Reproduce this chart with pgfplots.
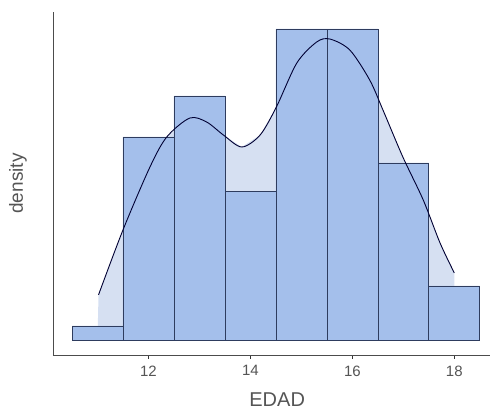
\documentclass[border=0pt]{standalone}
\usepackage{pgfplots}
\pgfplotsset{compat=1.18}
\usepackage{fontspec}
\setmainfont{Liberation Sans}
\definecolor{barfill}{HTML}{A4BFEB}
\definecolor{baredge}{HTML}{2E3C5E}
\definecolor{densfill}{HTML}{D6E0F2}
\definecolor{txt}{HTML}{555555}
\begin{document}
\begin{tikzpicture}
\useasboundingbox (0,0) rectangle (493pt,411pt);
\begin{axis}[
  at={(53pt,56pt)}, anchor=south west,
  scale only axis, width=437pt, height=343pt,
  xmin=10.127, xmax=18.70, ymin=-0.0103, ymax=0.2242,
  axis x line*=bottom, axis y line*=left,
  axis line style={color=black!70, line width=0.6pt},
  xtick={12,14,16,18}, ytick=\empty,
  tick align=outside, major tick length=4pt,
  x tick style={color=black!80, line width=0.8pt},
  xticklabel style={font=\fontsize{15}{15}\selectfont, text=txt, yshift=-3pt},
  /pgf/number format/assume math mode=true,
  xlabel={EDAD}, ylabel={density},
  xlabel style={at={(axis description cs:0.513,0)}, anchor=center, yshift=-45pt, font=\fontsize{20}{20}\selectfont, text=txt},
  ylabel style={at={(axis description cs:-0.08,0.5)}, anchor=center, font=\fontsize{19}{19}\selectfont, text=txt},
  clip=false,
]
\addplot[fill=densfill, draw=none] coordinates {
(11.0,0) (11.02,0.0308) (11.5,0.0752) (12.03,0.1183) (12.36,0.1388) (12.81,0.1517)
(13.14,0.1490) (13.47,0.1401) (13.83,0.1319) (14.19,0.1401) (14.51,0.1593)
(14.91,0.1893) (15.30,0.2037) (15.56,0.2057) (15.95,0.1982) (16.34,0.1777)
(16.60,0.1572) (16.99,0.1251) (17.39,0.0957) (17.72,0.0663) (18.0,0.0458) (18.0,0)
} -- cycle;
\addplot[ybar interval, fill=barfill, draw=baredge, line width=0.7pt] coordinates {
(10.5,0.0096) (11.5,0.1388) (12.5,0.1668) (13.5,0.1018) (14.5,0.2126)
(15.5,0.2126) (16.5,0.1210) (17.5,0.0369) (18.5,0.0369)
};
\addplot[smooth, tension=0.5, draw=black!80!blue, line width=0.9pt] coordinates {
(11.02,0.0308) (11.5,0.0752) (12.03,0.1183) (12.36,0.1388) (12.81,0.1517)
(13.14,0.1490) (13.47,0.1401) (13.83,0.1319) (14.19,0.1401) (14.51,0.1593)
(14.91,0.1893) (15.30,0.2037) (15.56,0.2057) (15.95,0.1982) (16.34,0.1777)
(16.60,0.1572) (16.99,0.1251) (17.39,0.0957) (17.72,0.0663) (18.0,0.0458)
};
\end{axis}
\end{tikzpicture}
\end{document}
